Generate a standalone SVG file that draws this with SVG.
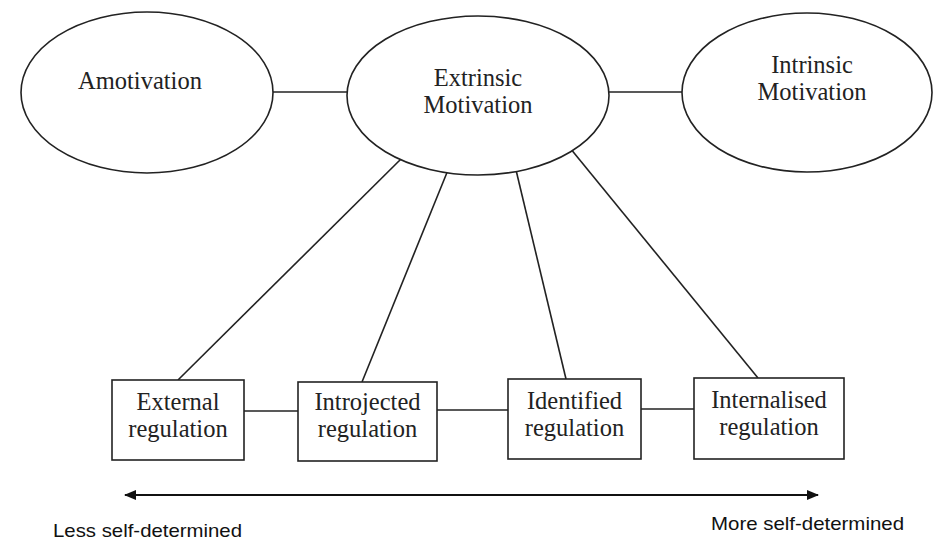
<svg xmlns="http://www.w3.org/2000/svg" width="933" height="540" viewBox="0 0 933 540">
  <style>
    .shape { fill: #ffffff; stroke: #222222; stroke-width: 1.6; }
    .link { stroke: #222222; stroke-width: 1.6; fill: none; }
    .label { font-family: "Liberation Serif", "Times New Roman", serif; font-size: 24.5px; fill: #222222; text-anchor: middle; }
    .scale { font-family: "Liberation Sans", Arial, sans-serif; font-size: 18.5px; fill: #111111; }
  </style>
  <defs>
    <marker id="tip" viewBox="0 0 12 10" refX="11" refY="5" markerWidth="12" markerHeight="10" markerUnits="userSpaceOnUse" orient="auto-start-reverse">
      <path d="M0,0 L12,5 L0,10 z" fill="#111111"/>
    </marker>
  </defs>

  <rect width="933" height="540" fill="#ffffff"/>

  <!-- connectors (drawn beneath the nodes) -->
  <g id="connectors">
    <line class="link" x1="273" y1="92" x2="347" y2="92"/>
    <line class="link" x1="609" y1="92" x2="682" y2="92"/>
    <line class="link" x1="402" y1="158" x2="178" y2="380"/>
    <line class="link" x1="448" y1="170" x2="362" y2="382"/>
    <line class="link" x1="516" y1="170" x2="566" y2="379"/>
    <line class="link" x1="570" y1="148" x2="758" y2="378"/>
    <line class="link" x1="244" y1="411" x2="298" y2="411"/>
    <line class="link" x1="437" y1="410" x2="508" y2="410"/>
    <line class="link" x1="641" y1="409" x2="694" y2="409"/>
  </g>

  <!-- motivation ellipses -->
  <g id="amotivation">
    <ellipse class="shape" cx="147" cy="92.5" rx="126" ry="80.5"/>
    <text class="label" x="140" y="89">Amotivation</text>
  </g>
  <g id="extrinsic">
    <ellipse class="shape" cx="478" cy="95.5" rx="131" ry="79.5"/>
    <text class="label" x="478" y="86">Extrinsic</text>
    <text class="label" x="478" y="113">Motivation</text>
  </g>
  <g id="intrinsic">
    <ellipse class="shape" cx="807" cy="92.5" rx="125" ry="79.5"/>
    <text class="label" x="812" y="73">Intrinsic</text>
    <text class="label" x="812" y="100">Motivation</text>
  </g>

  <!-- regulation boxes -->
  <g id="external">
    <rect class="shape" x="112" y="380" width="132" height="80"/>
    <text class="label" x="178" y="410">External</text>
    <text class="label" x="178" y="437">regulation</text>
  </g>
  <g id="introjected">
    <rect class="shape" x="298" y="382" width="139" height="79"/>
    <text class="label" x="367.5" y="410">Introjected</text>
    <text class="label" x="367.5" y="437">regulation</text>
  </g>
  <g id="identified">
    <rect class="shape" x="508" y="379" width="133" height="80"/>
    <text class="label" x="574.5" y="409">Identified</text>
    <text class="label" x="574.5" y="436">regulation</text>
  </g>
  <g id="internalised">
    <rect class="shape" x="694" y="378" width="150" height="81"/>
    <text class="label" x="769" y="408">Internalised</text>
    <text class="label" x="769" y="435">regulation</text>
  </g>

  <!-- self-determination continuum -->
  <g id="continuum">
    <line x1="125" y1="495" x2="818" y2="495" stroke="#111111" stroke-width="2" marker-start="url(#tip)" marker-end="url(#tip)"/>
    <text class="scale" x="53" y="537" textLength="189" lengthAdjust="spacingAndGlyphs">Less self-determined</text>
    <text class="scale" x="711" y="530" textLength="193" lengthAdjust="spacingAndGlyphs">More self-determined</text>
  </g>
</svg>
